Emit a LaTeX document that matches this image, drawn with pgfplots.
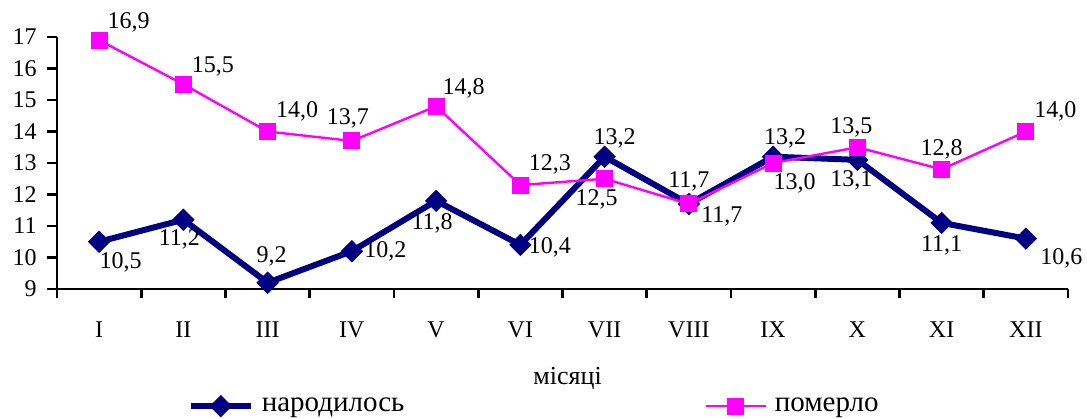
\documentclass[border=0pt]{standalone}
\usepackage{fontspec}
\setmainfont{Liberation Serif}
\usepackage{pgfplots}
\pgfplotsset{compat=1.18}
\definecolor{born}{RGB}{0,0,128}
\definecolor{died}{RGB}{255,0,255}

\begin{document}
\fontsize{12pt}{14pt}\selectfont
\begin{tikzpicture}
  \path[use as bounding box] (-28.5pt,-64.5pt) rectangle (515pt,144.5pt);
  \begin{axis}[
    scale only axis,
    width=505.5pt, height=126pt,
    xmin=0.5, xmax=12.5, ymin=9, ymax=17,
    axis x line=bottom, axis y line=left,
    axis line style={line width=1.4pt, -},
    every tick/.style={black, line width=1.4pt},
    tick align=outside,
    xtick={1,...,12},
    xticklabels={I,II,III,IV,V,VI,VII,VIII,IX,X,XI,XII},
    major x tick style={draw=none},
    minor xtick={0.5,1.5,...,12.5},
    minor tick length=4.5pt,
    major tick length=5pt,
    ytick={9,...,17},
    xticklabel style={yshift=-7pt},
    yticklabel style={xshift=-1pt},
    /pgf/number format/assume math mode=true,
    xlabel={\fontsize{13pt}{15pt}\selectfont місяці},
    xlabel style={at={(axis description cs:0.505,-0.353)}, anchor=center},
    legend columns=2,
    legend style={draw=none, fill=none, at={(0.475,-0.465)}, anchor=center,
      font=\fontsize{14.5pt}{16pt}\selectfont,
      nodes={inner xsep=4pt},
      /tikz/every even column/.append style={column sep=146pt},
      inner sep=0pt},
    legend image code/.code={%
      \draw[mark repeat=2,mark phase=2] plot coordinates {(0pt,0pt) (15pt,0pt) (30pt,0pt)};},
    clip=false,
  ]
    \addplot[born, line width=3pt, mark=square*, mark size=3.7pt,
      mark options={rotate=45, line width=0.5pt}]
      coordinates {(1,10.5) (2,11.2) (3,9.2) (4,10.2) (5,11.8) (6,10.4)
                   (7,13.2) (8,11.7) (9,13.2) (10,13.1) (11,11.1) (12,10.6)};
    \addlegendentry{народилось}
    \addplot[died, line width=1.2pt, mark=square*, mark size=4pt,
      mark options={line width=0.5pt}]
      coordinates {(1,16.9) (2,15.5) (3,14.0) (4,13.7) (5,14.8) (6,12.3)
                   (7,12.5) (8,11.7) (9,13.0) (10,13.5) (11,12.8) (12,14.0)};
    \addlegendentry{померло}

    % labels, born
    \node[anchor=north west, xshift=-4pt, yshift=-1pt] at (axis cs:1,10.5) {10,5};
    \node[anchor=north, xshift=-2pt, yshift=-1pt] at (axis cs:2,11.2) {11,2};
    \node[anchor=south, xshift=2pt, yshift=4pt] at (axis cs:3,9.2) {9,2};
    \node[anchor=west, xshift=2pt] at (axis cs:4,10.2) {10,2};
    \node[anchor=north, xshift=-2pt, yshift=-2pt] at (axis cs:5,11.8) {11,8};
    \node[anchor=west, xshift=0pt, yshift=-1pt] at (axis cs:6,10.4) {10,4};
    \node[anchor=south, xshift=5pt, yshift=0pt] at (axis cs:7,13.2) {13,2};
    \node[anchor=south, xshift=0pt, yshift=2pt] at (axis cs:8,11.7) {11,7};
    \node[anchor=south, xshift=6pt, yshift=0pt] at (axis cs:9,13.2) {13,2};
    \node[anchor=north, xshift=-3pt, yshift=-1pt] at (axis cs:10,13.1) {13,1};
    \node[anchor=north, xshift=0pt, yshift=-2pt] at (axis cs:11,11.1) {11,1};
    \node[anchor=north west, xshift=3pt, yshift=-1pt] at (axis cs:12,10.6) {10,6};
    % labels, died
    \node[anchor=south west, xshift=0pt, yshift=0pt] at (axis cs:1,16.9) {16,9};
    \node[anchor=south west, xshift=0pt, yshift=0pt] at (axis cs:2,15.5) {15,5};
    \node[anchor=south west, xshift=0pt, yshift=1pt] at (axis cs:3,14.0) {14,0};
    \node[anchor=south, xshift=-2pt, yshift=2pt] at (axis cs:4,13.7) {13,7};
    \node[anchor=south west, xshift=-1pt, yshift=0pt] at (axis cs:5,14.8) {14,8};
    \node[anchor=south west, xshift=0pt, yshift=1pt] at (axis cs:6,12.3) {12,3};
    \node[anchor=north, xshift=-4pt, yshift=-1pt] at (axis cs:7,12.5) {12,5};
    \node[anchor=north west, xshift=2pt, yshift=3pt] at (axis cs:8,11.7) {11,7};
    \node[anchor=north west, xshift=-4pt, yshift=-1pt] at (axis cs:9,13.0) {13,0};
    \node[anchor=south, xshift=-3pt, yshift=1pt] at (axis cs:10,13.5) {13,5};
    \node[anchor=south, xshift=0pt, yshift=1pt] at (axis cs:11,12.8) {12,8};
    \node[anchor=south west, xshift=0pt, yshift=1pt] at (axis cs:12,14.0) {14,0};
  \end{axis}
\end{tikzpicture}
\end{document}
